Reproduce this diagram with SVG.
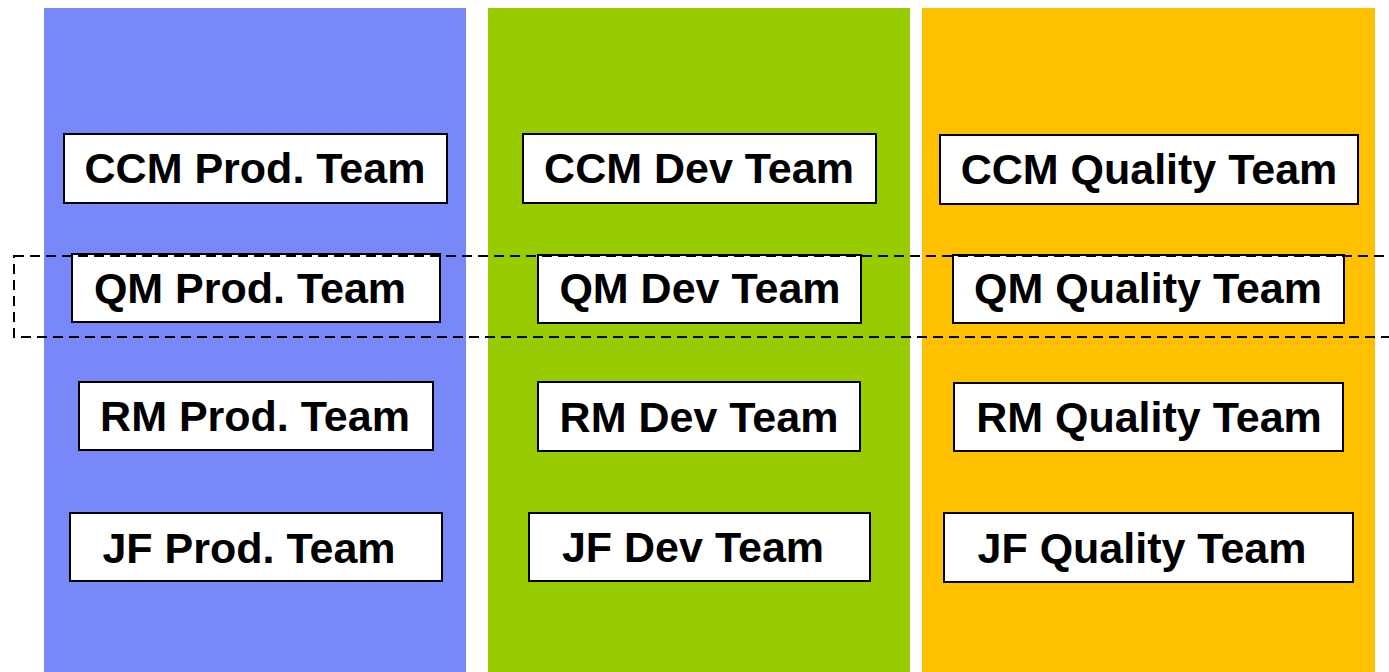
<svg xmlns="http://www.w3.org/2000/svg" width="1389" height="672" viewBox="0 0 1389 672">
<style>
.box{fill:#ffffff;stroke:#000000;stroke-width:2}
.lbl{font-family:"Liberation Sans",Arial,sans-serif;font-weight:bold;font-size:43px;fill:#000000;text-anchor:middle}
.dash{fill:none;stroke:#000000;stroke-width:2;stroke-dasharray:10,6}
</style>
<rect x="0" y="0" width="1389" height="672" fill="#ffffff"/>
<g id="lanes">
<rect id="lane-prod" x="44" y="8" width="422" height="664" fill="#7888F9"/>
<rect id="lane-dev" x="488" y="8" width="422" height="664" fill="#99CC00"/>
<rect id="lane-quality" x="922" y="8" width="453" height="664" fill="#FFC000"/>
</g>
<g id="ccm-prod"><rect class="box" x="64" y="134" width="383" height="69"/><text class="lbl" x="255" y="183">CCM Prod. Team</text></g>
<g id="ccm-dev"><rect class="box" x="523" y="134" width="353" height="69"/><text class="lbl" x="699" y="183">CCM Dev Team</text></g>
<g id="ccm-quality"><rect class="box" x="940" y="135" width="418" height="69"/><text class="lbl" x="1149" y="184">CCM Quality Team</text></g>
<g id="qm-prod"><rect class="box" x="72" y="254" width="368" height="68"/><text class="lbl" x="250" y="303">QM Prod. Team</text></g>
<g id="qm-dev"><rect class="box" x="538" y="255" width="323" height="68"/><text class="lbl" x="700" y="303">QM Dev Team</text></g>
<g id="qm-quality"><rect class="box" x="953" y="255" width="391" height="68"/><text class="lbl" x="1148" y="303">QM Quality Team</text></g>
<g id="rm-prod"><rect class="box" x="79" y="382" width="354" height="68"/><text class="lbl" x="255" y="431">RM Prod. Team</text></g>
<g id="rm-dev"><rect class="box" x="538" y="382" width="322" height="69"/><text class="lbl" x="699" y="432">RM Dev Team</text></g>
<g id="rm-quality"><rect class="box" x="954" y="383" width="389" height="68"/><text class="lbl" x="1149" y="432">RM Quality Team</text></g>
<g id="jf-prod"><rect class="box" x="70" y="513" width="372" height="68"/><text class="lbl" x="249" y="563">JF Prod. Team</text></g>
<g id="jf-dev"><rect class="box" x="529" y="513" width="341" height="68"/><text class="lbl" x="693" y="562">JF Dev Team</text></g>
<g id="jf-quality"><rect class="box" x="944" y="513" width="409" height="69"/><text class="lbl" x="1142" y="563">JF Quality Team</text></g>
<g id="connectors">
<rect id="qm-group" class="dash" x="14" y="256" width="1400" height="81"/>
</g>
</svg>
